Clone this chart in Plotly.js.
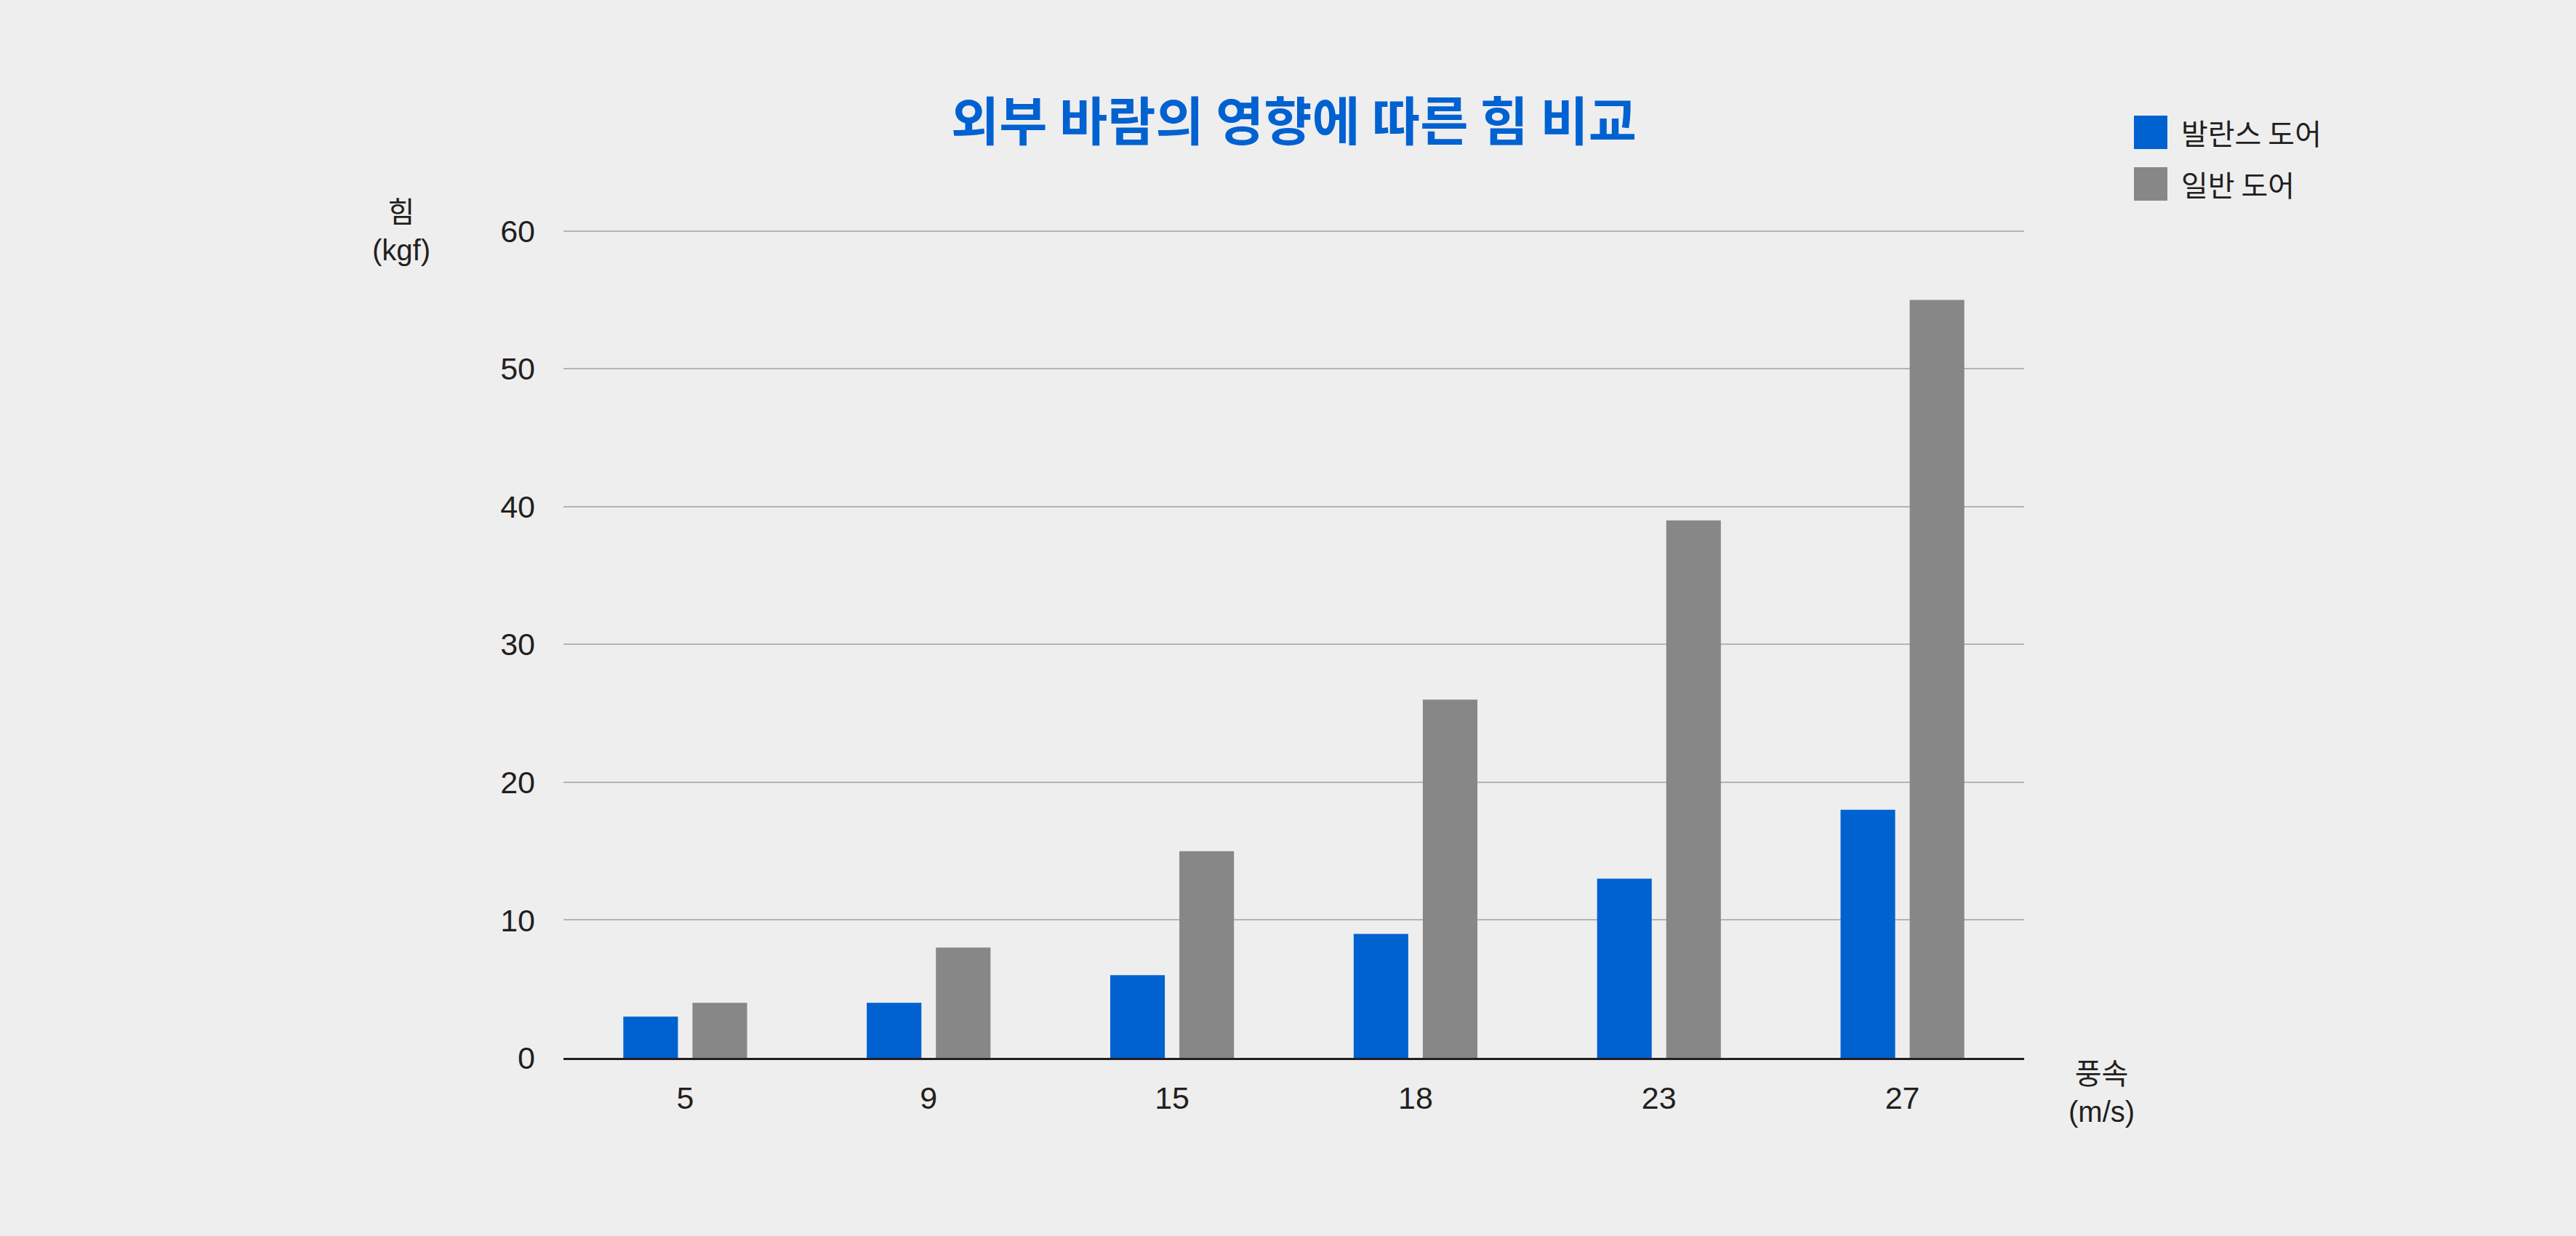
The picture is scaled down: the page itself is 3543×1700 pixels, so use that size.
<!DOCTYPE html>
<html>
<head>
<meta charset="utf-8">
<script src="https://cdn.plot.ly/plotly-3.0.1.min.js"></script>
<style>
  html, body { margin: 0; padding: 0; background: #eeeeee; }
  #chart { width: 3543px; height: 1700px; }
</style>
</head>
<body>
<div id="chart"></div>
<script>
// wind speed (m/s) categories and force (kgf) per door type
let windSpeeds = ["5", "9", "15", "18", "23", "27"];
let balanceDoor = [3, 4, 6, 9, 13, 18];
let normalDoor = [4, 8, 15, 26, 39, 55];
let seriesNames = ["발란스 도어", "일반 도어"];
let seriesColors = ["#0061d1", "#878787"];
let yTicks = [0, 10, 20, 30, 40, 50, 60];

let chart = document.getElementById("chart");

// plot area in pixels (top sits a bit above the 60 line so that gridline is kept)
const W = 3543, H = 1700;
const L = 775, R = 2784, T = 312, B = 1455;
const px = (x) => (x - L) / (R - L);
const py = (y) => (B - y) / (B - T);

const baseFont = "Liberation Sans, Arial, Noto Sans CJK KR, sans-serif";
const korFont = "Noto Sans CJK KR, sans-serif";

let traces = [
    {
        x: windSpeeds,
        y: balanceDoor,
        name: seriesNames[0],
        type: "bar",
        marker: { color: seriesColors[0] },
        hoverinfo: "none",
    },
    {
        x: windSpeeds,
        y: normalDoor,
        name: seriesNames[1],
        type: "bar",
        marker: { color: seriesColors[1] },
        hoverinfo: "none",
    },
];

// legend drawn by hand so the swatches can be big squares
let shapes = [];
let annotations = [];
seriesNames.forEach(function (name, i) {
    let top = 159 + i * 71;
    shapes.push({
        type: "rect",
        xref: "paper",
        yref: "paper",
        x0: px(2935),
        x1: px(2981),
        y0: py(top + 46),
        y1: py(top),
        fillcolor: seriesColors[i],
        line: { width: 0 },
    });
    annotations.push({
        xref: "paper",
        yref: "paper",
        x: px(2998),
        y: py(top + 23),
        xanchor: "left",
        yanchor: "middle",
        text: name,
        showarrow: false,
        font: { family: korFont, size: 40, color: "#231f20" },
    });
});

// axis titles
annotations.push({
    xref: "paper",
    yref: "paper",
    x: px(552),
    y: py(318),
    xanchor: "center",
    yanchor: "middle",
    text: "힘<br>(kgf)",
    showarrow: false,
    font: { family: baseFont, size: 40, color: "#231f20" },
});
annotations.push({
    xref: "paper",
    yref: "paper",
    x: px(2890),
    y: py(1503),
    xanchor: "center",
    yanchor: "middle",
    text: "풍속<br>(m/s)",
    showarrow: false,
    font: { family: baseFont, size: 40, color: "#231f20" },
});

let layout = {
    width: W,
    height: H,
    paper_bgcolor: "#eeeeee",
    plot_bgcolor: "#eeeeee",
    margin: { l: L, r: W - R, t: T, b: H - B, pad: 0 },
    showlegend: false,
    barmode: "group",
    bargap: 0.432,
    bargroupgap: 0.21,
    title: {
        text: "<b>외부 바람의 영향에 따른 힘 비교</b>",
        font: { family: korFont, size: 72, color: "#0061d1" },
        xref: "paper",
        x: 0.5,
        xanchor: "center",
        yref: "container",
        y: 1 - 168 / H,
        yanchor: "middle",
    },
    xaxis: {
        type: "category",
        showgrid: false,
        zeroline: false,
        showline: true,
        linecolor: "#231f20",
        linewidth: 3,
        ticks: "",
        ticklabelstandoff: 15,
        tickfont: { family: baseFont, size: 43, color: "#231f20" },
        fixedrange: true,
    },
    yaxis: {
        range: [0, 60.3],
        tickvals: yTicks,
        ticktext: yTicks.map(String),
        showgrid: true,
        gridcolor: "#b4b4b4",
        gridwidth: 2,
        zeroline: false,
        showline: false,
        ticks: "",
        ticklabelstandoff: 38,
        tickfont: { family: baseFont, size: 43, color: "#231f20" },
        fixedrange: true,
    },
    shapes: shapes,
    annotations: annotations,
};

Plotly.newPlot(chart, traces, layout, { displayModeBar: false, staticPlot: true });
</script>
</body>
</html>
